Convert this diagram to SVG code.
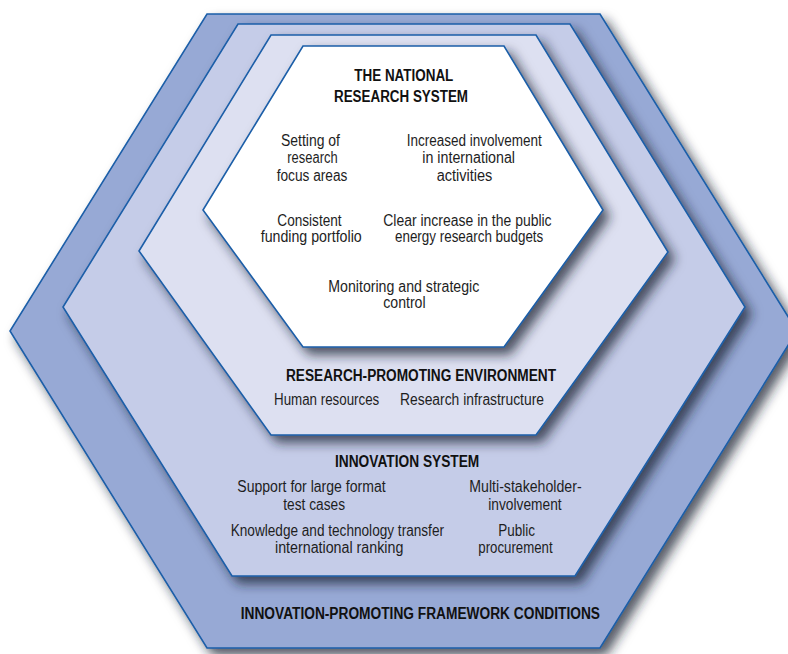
<svg xmlns="http://www.w3.org/2000/svg" width="788" height="654" viewBox="0 0 788 654">
<defs>
<filter id="sh" x="-10%" y="-10%" width="130%" height="130%">
<feDropShadow dx="6" dy="7" stdDeviation="6" flood-color="#1e2233" flood-opacity="0.75"/>
</filter>
</defs>
<style>
.hex{stroke:#1b5ea8;stroke-width:1.6;stroke-linejoin:miter;filter:url(#sh)}
.t{font-family:"Liberation Sans",Arial,sans-serif;font-size:16px;fill:#1e1e1e}
.b{font-family:"Liberation Sans",Arial,sans-serif;font-size:16px;font-weight:bold;fill:#111}
</style>
<rect width="788" height="654" fill="#ffffff"/>
<g id="framework-conditions">
<polygon class="hex" fill="#97a9d5" points="207,14 600,14 797,331 600,648 207,648 10,331"/>
<text class="b" x="240.7" y="619" textLength="359.3" lengthAdjust="spacingAndGlyphs">INNOVATION-PROMOTING FRAMEWORK CONDITIONS</text>
</g>
<g id="innovation-system">
<polygon class="hex" fill="#c5cce8" points="238,24 570,24 745,307 575,576 232,576 63,307"/>
<text class="b" x="335" y="467.3" textLength="144.3" lengthAdjust="spacingAndGlyphs">INNOVATION SYSTEM</text>
<text class="t" x="237.3" y="491.7" textLength="148.3" lengthAdjust="spacingAndGlyphs">Support for large format</text>
<text class="t" x="283.3" y="510" textLength="61.7" lengthAdjust="spacingAndGlyphs">test cases</text>
<text class="t" x="469.3" y="491.7" textLength="112.3" lengthAdjust="spacingAndGlyphs">Multi-stakeholder-</text>
<text class="t" x="488.3" y="510" textLength="73.3" lengthAdjust="spacingAndGlyphs">involvement</text>
<text class="t" x="230.7" y="536" textLength="213.3" lengthAdjust="spacingAndGlyphs">Knowledge and technology transfer</text>
<text class="t" x="275" y="552.7" textLength="128.3" lengthAdjust="spacingAndGlyphs">international ranking</text>
<text class="t" x="498.3" y="536" textLength="36.7" lengthAdjust="spacingAndGlyphs">Public</text>
<text class="t" x="478.3" y="552.7" textLength="74.3" lengthAdjust="spacingAndGlyphs">procurement</text>
</g>
<g id="research-promoting-environment">
<polygon class="hex" fill="#dde0f1" points="271,35 536,35 668,252 536,435 271,435 139,251"/>
<text class="b" x="286" y="380.7" textLength="270" lengthAdjust="spacingAndGlyphs">RESEARCH-PROMOTING ENVIRONMENT</text>
<text class="t" x="274" y="405" textLength="105.3" lengthAdjust="spacingAndGlyphs">Human resources</text>
<text class="t" x="400" y="405" textLength="144" lengthAdjust="spacingAndGlyphs">Research infrastructure</text>
</g>
<g id="national-research-system">
<polygon class="hex" fill="#ffffff" points="303,46 504,46 603,210 504,347 303,347 203,210"/>
<text class="b" x="354.3" y="80.7" textLength="99" lengthAdjust="spacingAndGlyphs">THE NATIONAL</text>
<text class="b" x="334" y="101.7" textLength="134" lengthAdjust="spacingAndGlyphs">RESEARCH SYSTEM</text>
<text class="t" x="281" y="145.7" textLength="59" lengthAdjust="spacingAndGlyphs">Setting of</text>
<text class="t" x="287.3" y="163.3" textLength="50.3" lengthAdjust="spacingAndGlyphs">research</text>
<text class="t" x="276.7" y="180.7" textLength="70.7" lengthAdjust="spacingAndGlyphs">focus areas</text>
<text class="t" x="406.7" y="145.7" textLength="135" lengthAdjust="spacingAndGlyphs">Increased involvement</text>
<text class="t" x="422.3" y="163.3" textLength="92.7" lengthAdjust="spacingAndGlyphs">in international</text>
<text class="t" x="436.7" y="180.7" textLength="55.7" lengthAdjust="spacingAndGlyphs">activities</text>
<text class="t" x="277.3" y="226" textLength="64.3" lengthAdjust="spacingAndGlyphs">Consistent</text>
<text class="t" x="260.7" y="242.3" textLength="101" lengthAdjust="spacingAndGlyphs">funding portfolio</text>
<text class="t" x="383.3" y="226" textLength="168.3" lengthAdjust="spacingAndGlyphs">Clear increase in the public</text>
<text class="t" x="395" y="242.3" textLength="148.3" lengthAdjust="spacingAndGlyphs">energy research budgets</text>
<text class="t" x="328.3" y="291.7" textLength="151" lengthAdjust="spacingAndGlyphs">Monitoring and strategic</text>
<text class="t" x="383.3" y="308.3" textLength="42.3" lengthAdjust="spacingAndGlyphs">control</text>
</g>
<g id="connectors"/>
</svg>
